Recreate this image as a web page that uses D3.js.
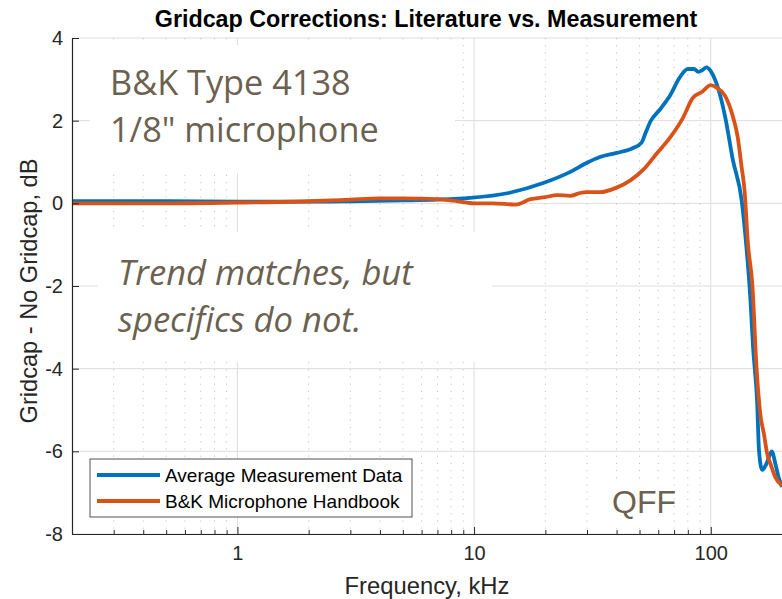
<!DOCTYPE html>
<html>
<head>
<meta charset="utf-8">
<script src="https://cdn.jsdelivr.net/npm/d3@7"></script>
<style>
  body { margin: 0; background: #fff; }
  .axis text { font-family: "Liberation Sans", Arial, sans-serif; font-size: 20px; fill: #262626; }
  .axis path, .axis line { stroke: #262626; }
</style>
</head>
<body>
<div id="chart"></div>
<script>
// DATA (frequency in kHz, correction in dB)
var measFreq = [0.2, 0.5, 1, 2, 3, 5, 7, 9.6, 14, 19.6, 25.5, 30, 34, 40, 47, 51, 53, 55.6, 61, 67.5, 74, 80, 85, 88.6, 92, 96, 100, 105, 115, 124, 135, 141, 147, 151, 157, 160, 165, 172, 181, 187.5, 193, 200]
var measGain = [0.05, 0.05, 0.04, 0.04, 0.05, 0.07, 0.09, 0.13, 0.25, 0.49, 0.76, 0.98, 1.12, 1.22, 1.34, 1.47, 1.7, 1.98, 2.27, 2.62, 3.05, 3.25, 3.25, 3.18, 3.22, 3.29, 3.2, 2.95, 2.1, 1.05, 0.08, -0.96, -2.3, -3.5, -4.8, -6.0, -6.45, -6.3, -6.0, -6.3, -6.6, -6.86]

var bkFreq = [0.2, 0.5, 1, 2, 3, 4, 5, 7, 8.5, 10, 12, 15, 17.3, 20, 22.4, 25.5, 28, 30, 34, 40, 45.6, 52, 59, 67.5, 76, 84, 92, 100, 106, 115, 124, 130, 135, 139, 143.5, 150, 156, 162, 168, 173, 180, 187.5, 200]
var bkGain = [0.0, 0.0, 0.02, 0.05, 0.09, 0.12, 0.12, 0.1, 0.05, 0.0, 0.0, -0.03, 0.1, 0.15, 0.2, 0.18, 0.25, 0.27, 0.27, 0.38, 0.55, 0.82, 1.2, 1.6, 2.05, 2.55, 2.7, 2.86, 2.8, 2.6, 2.1, 1.6, 0.88, 0.3, -0.96, -2.0, -3.95, -5.1, -5.6, -6.05, -6.35, -6.63, -6.82]

var seriesNames = ['Average Measurement Data', 'B&K Microphone Handbook']
var seriesColors = ['#0072BD', '#D95319']

var yTicks = [-8, -6, -4, -2, 0, 2, 4]
var yTickLabels = ['-8', '-6', '-4', '-2', '0', '2', '4']
var xTicks = [1, 10, 100]
var xTickLabels = ['1', '10', '100']
var xMinor = [0.3, 0.4, 0.5, 0.6, 0.7, 0.8, 0.9, 2, 3, 4, 5, 6, 7, 8, 9, 20, 30, 40, 50, 60, 70, 80, 90]

// SIZING VARIABLES
var margin = { top: 38, right: 0, bottom: 65, left: 72 }
var width = 782 - margin.left - margin.right
var height = 599 - margin.top - margin.bottom

// SCALES
var x = d3.scaleLog().domain([0.2, 200]).range([0, width])
var y = d3.scaleLinear().domain([-8, 4]).range([height, 0])

var svg = d3.select('#chart')
  .append('svg')
  .attr('width', 782)
  .attr('height', 599)
  .style('font-family', '"Liberation Sans", Arial, sans-serif')

var g = svg.append('g')
  .attr('transform', 'translate(' + margin.left + ',' + margin.top + ')')

// GRID
g.selectAll('.hgrid')
  .data(yTicks)
  .enter()
  .append('line')
  .attr('x1', 0)
  .attr('x2', width)
  .attr('y1', function(d) { return y(d) })
  .attr('y2', function(d) { return y(d) })
  .attr('stroke', '#dedede')
  .attr('stroke-width', 1)

g.selectAll('.vgrid')
  .data(xTicks)
  .enter()
  .append('line')
  .attr('x1', function(d) { return x(d) })
  .attr('x2', function(d) { return x(d) })
  .attr('y1', 0)
  .attr('y2', height)
  .attr('stroke', '#dedede')
  .attr('stroke-width', 1)

g.selectAll('.vminor')
  .data(xMinor)
  .enter()
  .append('line')
  .attr('x1', function(d) { return x(d) })
  .attr('x2', function(d) { return x(d) })
  .attr('y1', 0)
  .attr('y2', height)
  .attr('stroke', '#c2c2c2')
  .attr('stroke-width', 1)
  .attr('stroke-dasharray', '1.2,6')

// TEXT ANNOTATIONS (white boxes hide the grid behind them)
var noteColor = '#6b6150'

svg.append('rect').attr('x', 90).attr('y', 45).attr('width', 365).attr('height', 128).attr('fill', '#fff')
svg.append('rect').attr('x', 98).attr('y', 232).attr('width', 394).attr('height', 130).attr('fill', '#fff')
svg.append('rect').attr('x', 604).attr('y', 484).attr('width', 66).attr('height', 44).attr('fill', '#fff')

var note1 = svg.append('text')
  .attr('font-family', '"Open Sans", "Noto Sans", sans-serif')
  .attr('font-size', 34.3)
  .attr('fill', noteColor)
note1.append('tspan').attr('x', 110).attr('y', 95).text('B&K Type 4138')
note1.append('tspan').attr('x', 110).attr('y', 142).text('1/8" microphone')

var note2 = svg.append('text')
  .attr('font-family', '"Open Sans", "Noto Sans", sans-serif')
  .attr('font-size', 34.6)
  .attr('font-style', 'italic')
  .attr('fill', noteColor)
note2.append('tspan').attr('x', 118).attr('y', 285).text('Trend matches, but')
note2.append('tspan').attr('x', 118).attr('y', 332).text('specifics do not.')

svg.append('text')
  .attr('x', 612)
  .attr('y', 513)
  .attr('font-size', 32)
  .attr('fill', noteColor)
  .text('QFF')

// LINES
var series = [
  { name: seriesNames[0], color: seriesColors[0], values: measFreq.map(function(f, i) { return [f, measGain[i]] }) },
  { name: seriesNames[1], color: seriesColors[1], values: bkFreq.map(function(f, i) { return [f, bkGain[i]] }) }
]

var valueline = d3.line()
  .x(function(d) { return x(d[0]) })
  .y(function(d) { return y(d[1]) })
  .curve(d3.curveMonotoneX)

g.selectAll('.series')
  .data(series)
  .enter()
  .append('path')
  .attr('d', function(d) { return valueline(d.values) })
  .attr('fill', 'none')
  .attr('stroke', function(d) { return d.color })
  .attr('stroke-width', 3.8)
  .attr('stroke-linejoin', 'round')

// X-AXIS
g.append('g')
  .attr('class', 'axis')
  .attr('transform', 'translate(0,' + height + ')')
  .call(d3.axisBottom(x)
    .tickValues(xTicks)
    .tickFormat(function(d, i) { return xTickLabels[i] })
    .tickSizeInner(-7)
    .tickSizeOuter(0)
    .tickPadding(12))

g.append('g')
  .attr('class', 'axis')
  .attr('transform', 'translate(0,' + height + ')')
  .call(d3.axisBottom(x)
    .tickValues(xMinor)
    .tickFormat('')
    .tickSizeInner(-4)
    .tickSizeOuter(0))
  .select('.domain').remove()

// Y-AXIS
g.append('g')
  .attr('class', 'axis')
  .call(d3.axisLeft(y)
    .tickValues(yTicks)
    .tickFormat(function(d, i) { return yTickLabels[i] })
    .tickSizeInner(-7)
    .tickSizeOuter(0)
    .tickPadding(9))

g.selectAll('.axis .domain').attr('stroke-width', 1.2)

// AXIS LABELS + TITLE
svg.append('text')
  .attr('x', margin.left + width / 2)
  .attr('y', 594)
  .attr('text-anchor', 'middle')
  .attr('font-size', 23.8)
  .attr('fill', '#262626')
  .text('Frequency, kHz')

svg.append('text')
  .attr('transform', 'translate(37,291) rotate(-90)')
  .attr('text-anchor', 'middle')
  .attr('font-size', 23.6)
  .attr('fill', '#262626')
  .text('Gridcap - No Gridcap, dB')

svg.append('text')
  .attr('x', margin.left + width / 2 - 1)
  .attr('y', 27)
  .attr('text-anchor', 'middle')
  .attr('font-size', 23.3)
  .attr('font-weight', 'bold')
  .attr('fill', '#000')
  .text('Gridcap Corrections: Literature vs. Measurement')

// LEGEND
var legend = svg.append('g').attr('transform', 'translate(90,459)')
legend.append('rect')
  .attr('width', 322)
  .attr('height', 58)
  .attr('fill', '#fff')
  .attr('stroke', '#262626')
  .attr('stroke-width', 0.8)

var items = legend.selectAll('.item')
  .data(series)
  .enter()
  .append('g')
  .attr('transform', function(d, i) { return 'translate(0,' + (16 + i * 26) + ')' })

items.append('line')
  .attr('x1', 7)
  .attr('x2', 70)
  .attr('stroke', function(d) { return d.color })
  .attr('stroke-width', 4)

items.append('text')
  .attr('x', 75)
  .attr('dy', '0.35em')
  .attr('font-size', 19)
  .attr('fill', '#000')
  .text(function(d) { return d.name })
</script>
</body>
</html>
